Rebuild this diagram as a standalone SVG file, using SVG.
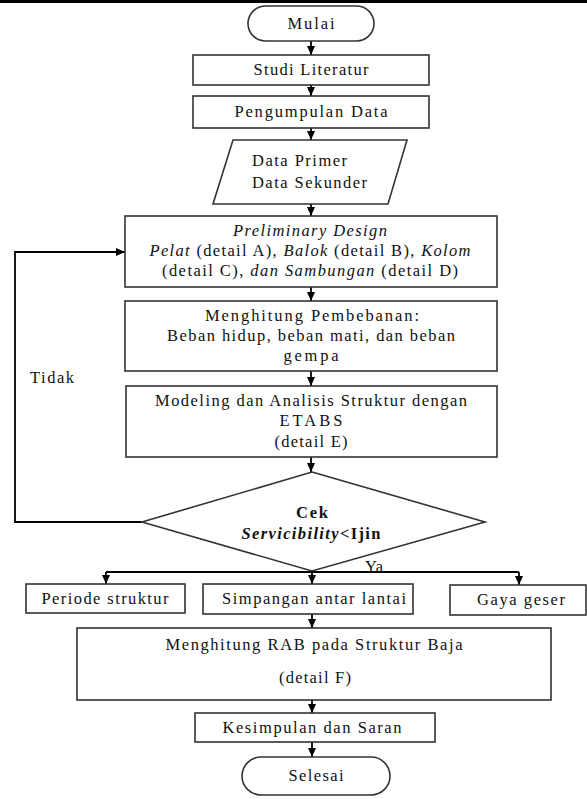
<svg xmlns="http://www.w3.org/2000/svg" width="587" height="799" viewBox="0 0 587 799">
<defs>
<marker id="ah" markerUnits="userSpaceOnUse" markerWidth="10" markerHeight="10" refX="9" refY="5" orient="auto">
<path d="M0,1 L9,5 L0,9 Z" fill="#000"/>
</marker>
<style>
.box{fill:#fff;stroke:#333;stroke-width:1.6}
.t{font-family:"Liberation Serif","Times New Roman",serif;font-size:16.5px;fill:#111;text-anchor:middle}
.i{font-style:italic}
.b{font-weight:bold}
.c{fill:none;stroke:#000;stroke-width:1.8}
</style>
</defs>
<rect x="0" y="0" width="587" height="3" fill="#000"/>
<g id="connectors">
<line class="c" x1="311" y1="41" x2="311" y2="55" marker-end="url(#ah)"/>
<line class="c" x1="311" y1="85" x2="311" y2="96" marker-end="url(#ah)"/>
<line class="c" x1="311" y1="128" x2="311" y2="140" marker-end="url(#ah)"/>
<line class="c" x1="311" y1="204" x2="311" y2="216" marker-end="url(#ah)"/>
<line class="c" x1="311" y1="287" x2="311" y2="301" marker-end="url(#ah)"/>
<line class="c" x1="311" y1="371" x2="311" y2="386" marker-end="url(#ah)"/>
<line class="c" x1="311" y1="457" x2="311" y2="472" marker-end="url(#ah)"/>
<polyline class="c" points="142,522 15,522 15,252 125,252" marker-end="url(#ah)"/>
<line class="c" x1="106" y1="572" x2="519" y2="572"/>
<line class="c" x1="106" y1="572" x2="106" y2="584" marker-end="url(#ah)"/>
<line class="c" x1="312" y1="572" x2="312" y2="584" marker-end="url(#ah)"/>
<line class="c" x1="519" y1="572" x2="519" y2="585" marker-end="url(#ah)"/>
<line class="c" x1="312" y1="614" x2="312" y2="628" marker-end="url(#ah)"/>
<line class="c" x1="312" y1="700" x2="312" y2="713" marker-end="url(#ah)"/>
<line class="c" x1="312" y1="742" x2="312" y2="757" marker-end="url(#ah)"/>
<text class="t" x="52" y="383" textLength="44">Tidak</text>
<text class="t" x="374" y="572" textLength="18">Ya</text>
</g>
<g id="mulai">
<rect class="box" x="248" y="6" width="126" height="35" rx="17.5"/>
<text class="t" x="311" y="29" textLength="47">Mulai</text>
</g>
<g id="studi">
<rect class="box" x="193" y="55" width="236" height="30"/>
<text class="t" x="311" y="75" textLength="115">Studi Literatur</text>
</g>
<g id="pengumpulan">
<rect class="box" x="193" y="96" width="236" height="32"/>
<text class="t" x="311" y="117" textLength="153">Pengumpulan Data</text>
</g>
<g id="data">
<polygon class="box" points="233,140 407,140 388,204 213,204"/>
<text class="t" x="252" y="166" textLength="95" style="text-anchor:start">Data Primer</text>
<text class="t" x="252" y="188" textLength="115" style="text-anchor:start">Data Sekunder</text>
</g>
<g id="preliminary">
<rect class="box" x="125" y="216" width="372" height="71"/>
<text class="t i" x="310" y="236" textLength="154">Preliminary Design</text>
<text class="t" x="310" y="256" textLength="321"><tspan class="i">Pelat</tspan> (detail A), <tspan class="i">Balok</tspan> (detail B), <tspan class="i">Kolom</tspan></text>
<text class="t" x="310" y="276" textLength="296">(detail C), <tspan class="i">dan Sambungan</tspan> (detail D)</text>
</g>
<g id="pembebanan">
<rect class="box" x="125" y="301" width="372" height="70"/>
<text class="t" x="312" y="321" textLength="214">Menghitung Pembebanan:</text>
<text class="t" x="311" y="341" textLength="288">Beban hidup, beban mati, dan beban</text>
<text class="t" x="311" y="361" textLength="55">gempa</text>
</g>
<g id="modeling">
<rect class="box" x="126" y="386" width="371" height="71"/>
<text class="t" x="311" y="406" textLength="312">Modeling dan Analisis Struktur dengan</text>
<text class="t" x="311" y="426" textLength="63">ETABS</text>
<text class="t" x="311" y="447" textLength="73">(detail E)</text>
</g>
<g id="cek">
<polygon class="box" points="312,472 485,522 312,571 142,522"/>
<text class="t b" x="312" y="518" textLength="32">Cek</text>
<text class="t b" x="311" y="539" textLength="139"><tspan class="i">Servicibility</tspan>&lt;Ijin</text>
</g>
<g id="periode">
<rect class="box" x="26" y="584" width="159" height="29"/>
<text class="t" x="105" y="604" textLength="127">Periode struktur</text>
</g>
<g id="simpangan">
<rect class="box" x="203" y="584" width="210" height="30"/>
<text class="t" x="314" y="604" textLength="184">Simpangan antar lantai</text>
</g>
<g id="gaya">
<rect class="box" x="450" y="585" width="136" height="30"/>
<text class="t" x="521" y="605" textLength="88">Gaya geser</text>
</g>
<g id="rab">
<rect class="box" x="77" y="628" width="474" height="72"/>
<text class="t" x="314" y="650" textLength="297">Menghitung RAB pada Struktur Baja</text>
<text class="t" x="315" y="683" textLength="72">(detail F)</text>
</g>
<g id="kesimpulan">
<rect class="box" x="195" y="713" width="240" height="29"/>
<text class="t" x="312" y="733" textLength="179">Kesimpulan dan Saran</text>
</g>
<g id="selesai">
<rect class="box" x="242" y="757" width="148" height="38" rx="19"/>
<text class="t" x="316" y="781" textLength="55">Selesai</text>
</g>
</svg>
